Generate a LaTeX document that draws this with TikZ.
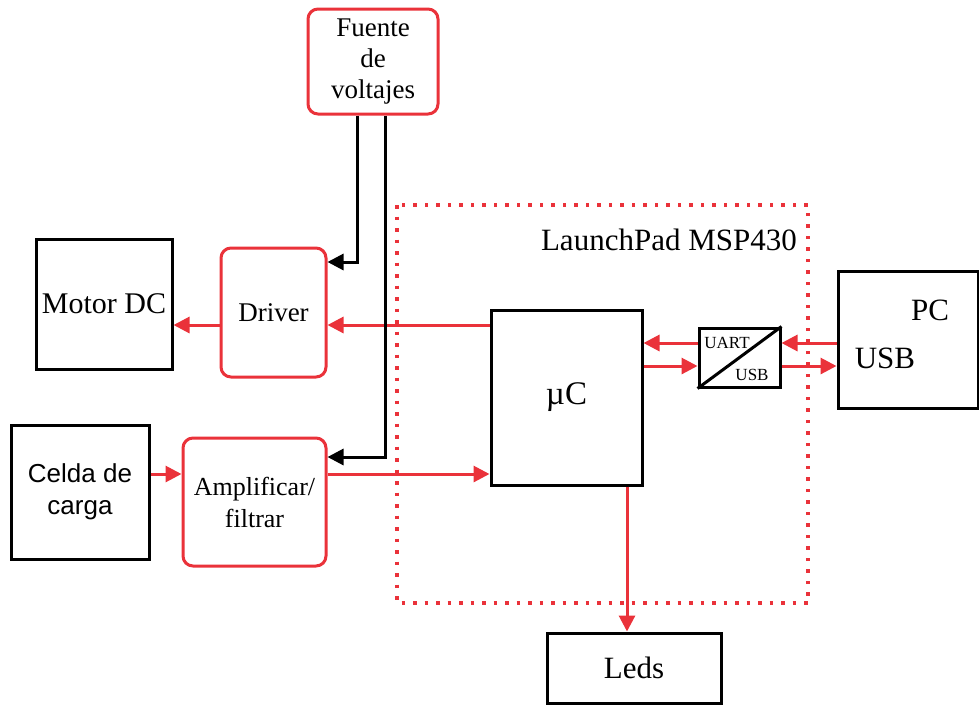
\documentclass[tikz,border=0pt]{standalone}
\usepackage{fontspec}
\setmainfont{Liberation Serif}
\newfontfamily\arialf{Liberation Sans}
\usetikzlibrary{arrows.meta,calc}
\definecolor{rd}{RGB}{234,50,58}
\tikzset{
  blk/.style={draw=black,line width=3pt,fill=white,inner sep=0pt,align=center},
  redbox/.style={draw=rd,line width=3pt,rounded corners=10pt,fill=white,inner sep=0pt,align=center},
  rarr/.style={draw=rd,line width=3pt,-{Triangle[length=16pt,width=16pt]}},
  barr/.style={draw=black,line width=3pt,-{Triangle[length=16pt,width=16pt]}},
  fa/.style={font=\fontsize{27}{31}\selectfont},
  fb/.style={font=\fontsize{30}{33}\selectfont},
  fc/.style={font=\fontsize{31}{36}\selectfont},
}
\begin{document}
\begin{tikzpicture}[x=1pt,y=-1pt]
\useasboundingbox (0,0) rectangle (979,705);
% dotted frame
\draw[rd,line width=3.5pt,dash pattern=on 3.5pt off 8pt] (397,205) rectangle (808,603);
\node[anchor=east,fc,inner sep=0pt] (lp) at (797,240) {LaunchPad MSP430};
% boxes
\node[redbox,minimum width=130pt,minimum height=105pt,fa] (fuente) at (373,61.5) {Fuente\\de\\voltajes};
\node[blk,minimum width=136pt,minimum height=130pt,fb] (motor) at (104,304) {Motor DC};
\node[redbox,minimum width=105pt,minimum height=129pt,fa] (driver) at (273.5,312.5) {Driver};
\node[blk,minimum width=138pt,minimum height=134pt,font=\arialf\fontsize{26}{32}\selectfont] (celda) at (80,492) {Celda de\\carga};
\node[redbox,minimum width=143pt,minimum height=128pt,font=\fontsize{26}{32}\selectfont] (amp) at (254.5,502) {Amplificar/\\filtrar};
\node[blk,minimum width=151pt,minimum height=175pt,font=\fontsize{33}{36}\selectfont] (uc) at (566.5,397.5) {µC};
\node[blk,minimum width=81pt,minimum height=59pt] (conv) at (739.5,357.5) {};
\draw[line width=3pt] (conv.south west) -- (conv.north east);
\node[font=\fontsize{17}{20}\selectfont,inner sep=0pt] (uart) at (727,343) {UART};
\node[font=\fontsize{17}{20}\selectfont,inner sep=0pt] (usbs) at (752,375) {USB};
\node[blk,minimum width=140pt,minimum height=137pt] (pc) at (908,339.5) {};
\node[fc,inner sep=0pt] (pct) at (930,310) {PC};
\node[fc,inner sep=0pt] (usbt) at (885,358) {USB};
\node[blk,minimum width=174pt,minimum height=70pt,fc] (leds) at (634,668) {Leds};
% red connectors
\draw[rarr] (uc.west |- 0,325) -- (driver.east |- 0,325);
\draw[rarr] (driver.west |- 0,325) -- (motor.east |- 0,325);
\draw[rarr] (celda.east |- 0,474) -- (amp.west |- 0,474);
\draw[rarr] (amp.east |- 0,474) -- (uc.west |- 0,474);
\draw[rarr] (627,0 |- uc.south) -- (627,0 |- leds.north);
\draw[rarr] (conv.west |- 0,343) -- (uc.east |- 0,343);
\draw[rarr] (uc.east |- 0,366) -- (conv.west |- 0,366);
\draw[rarr] (pc.west |- 0,343) -- (conv.east |- 0,343);
\draw[rarr] (conv.east |- 0,366) -- (pc.west |- 0,366);
% black connectors
\draw[barr] (357,0 |- fuente.south) -- (357,262) -- (driver.east |- 0,262);
\draw[barr] (385,0 |- fuente.south) -- (385,457) -- (amp.east |- 0,457);
\end{tikzpicture}
\end{document}
